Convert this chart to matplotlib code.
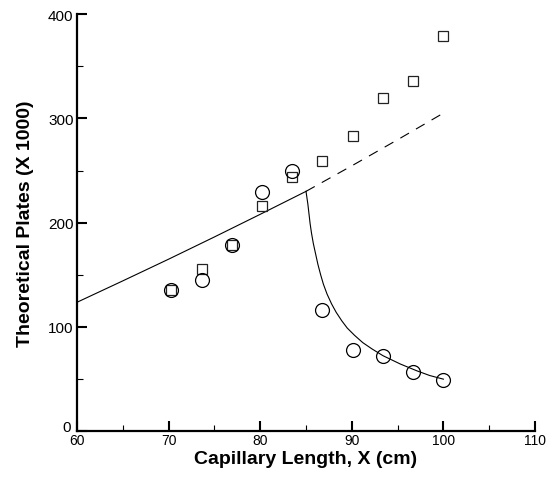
import matplotlib
matplotlib.use("Agg")
import matplotlib.pyplot as plt
import matplotlib.transforms as mtransforms
from matplotlib.ticker import MultipleLocator

plt.rcParams['font.family'] = ['Liberation Sans', 'DejaVu Sans']
plt.rcParams['lines.scale_dashes'] = False

# Measured points
x_pts = [70.3, 73.6, 76.9, 80.2, 83.5, 86.8, 90.1, 93.4, 96.7, 100.0]
squares = [135, 156, 179, 216, 244, 259.5, 283, 319.5, 335.5, 379]
circles = [135, 145, 179, 229, 249.5, 116.5, 77.5, 72.5, 57, 49.5]

# Model curves
rise_x = [60, 65, 70, 75, 80, 85.0]
rise_y = [123.7, 144.2, 165, 186.3, 208, 230]

dash_x = [85.0, 90, 95, 100.0]
dash_y = [230, 254.5, 279.5, 305]

decay_x = [85.0, 85.1, 85.2, 85.45, 85.6, 85.8, 86.3, 86.6, 86.9, 87.3, 87.8,
           88.3, 88.9, 89.5, 90.3, 91.2, 92.2, 93.4, 95.3, 97.1, 98.5, 100.0]
decay_y = [230, 224, 218, 199, 190, 180, 160, 150, 141, 131.5, 122,
           114, 106, 99, 92, 85, 79, 72.5, 64.5, 58, 53.5, 50]

xticks = [60, 70, 80, 90, 100, 110]
yticks = [0, 100, 200, 300, 400]

fig = plt.figure(figsize=(5.48, 4.81), dpi=100)
ax = fig.add_axes([0.1405, 0.1012, 0.8358, 0.8676])

ax.plot(rise_x, rise_y, color='black', lw=0.8)
ax.plot(dash_x, dash_y, color='black', lw=0.8, linestyle=(0, (7.2, 5.8)))
ax.plot(decay_x, decay_y, color='black', lw=0.8)

ax.plot(x_pts, squares, linestyle='none', marker='s', markersize=7.5,
        markerfacecolor='none', markeredgecolor='#222222', markeredgewidth=0.9)
ax.plot(x_pts, circles, linestyle='none', marker='o', markersize=10,
        markerfacecolor='none', markeredgecolor='black', markeredgewidth=0.9)

ax.set_xlim(60, 110)
ax.set_ylim(0, 400)
ax.set_xticks(xticks)
ax.set_yticks(yticks)
ax.xaxis.set_minor_locator(MultipleLocator(5))
ax.yaxis.set_minor_locator(MultipleLocator(50))

for s in ['top', 'right']:
    ax.spines[s].set_visible(False)
for s in ['left', 'bottom']:
    ax.spines[s].set_linewidth(1.6)

ax.tick_params(which='major', direction='in', length=7, width=1.5)
ax.tick_params(which='minor', direction='in', length=4, width=0.8)
ax.tick_params(axis='x', which='major', labelsize=10, pad=1.0)
ax.tick_params(axis='y', which='major', labelsize=11, pad=2.5)

ax.set_xlabel('Capillary Length, X (cm)', fontsize=14, fontweight='bold')
ax.set_ylabel('Theoretical Plates (X 1000)', fontsize=14, fontweight='bold')
ax.xaxis.set_label_coords(0.5, -0.045)
ax.yaxis.set_label_coords(-0.094, 0.5)

# nudge the "0" label slightly up-left so it does not collide with "60"
fig.canvas.draw()
zero_lbl = ax.yaxis.get_major_ticks()[0].label1
zero_lbl.set_transform(zero_lbl.get_transform() +
                       mtransforms.ScaledTranslation(-2 / 72, 4 / 72, fig.dpi_scale_trans))

fig.savefig('out.png', dpi=100)
